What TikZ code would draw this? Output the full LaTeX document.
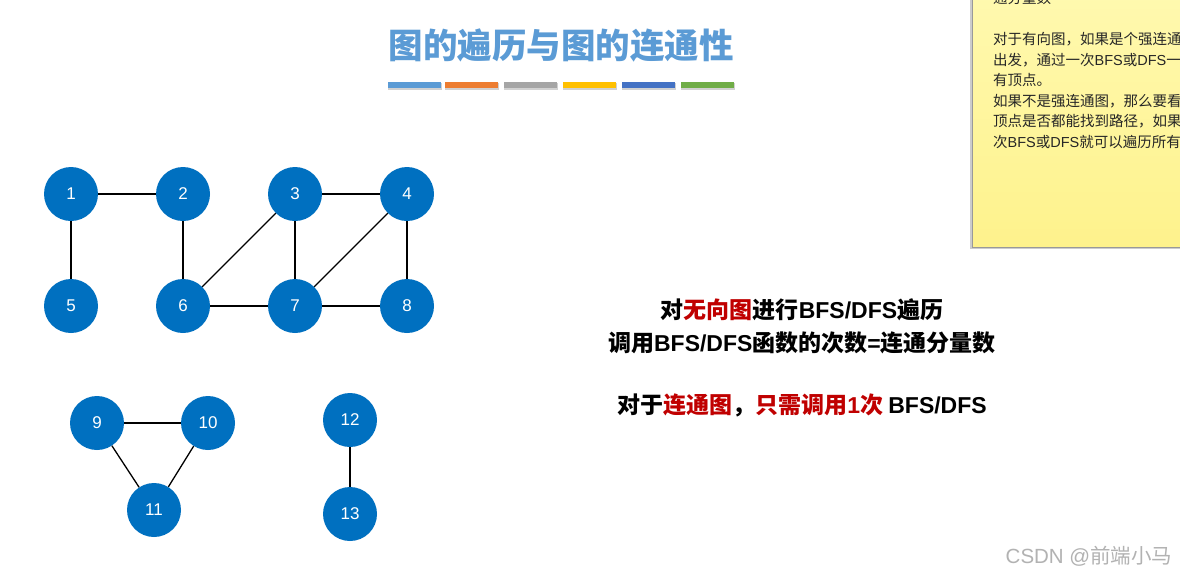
\documentclass[tikz,border=0pt]{standalone}
\usepackage{fontspec}
\setmainfont{Noto Sans CJK SC}
\newfontfamily\latfont{Liberation Sans}
\newcommand{\lat}[1]{{\latfont #1}}
\usetikzlibrary{positioning}
\definecolor{vertex-blue}{RGB}{0,112,192}
\definecolor{title-blue}{RGB}{91,155,213}
\definecolor{hint-red}{RGB}{192,0,0}
\definecolor{note-top}{RGB}{255,249,175}
\definecolor{note-bottom}{RGB}{254,242,140}
\definecolor{bar-1}{RGB}{91,155,213}
\definecolor{bar-2}{RGB}{237,125,49}
\definecolor{bar-3}{RGB}{165,165,165}
\definecolor{bar-4}{RGB}{255,192,0}
\definecolor{bar-5}{RGB}{68,114,196}
\definecolor{bar-6}{RGB}{112,173,71}
\tikzset{
  graph-vertex/.style={circle, fill=vertex-blue, minimum size=54pt, inner sep=0pt,
    text=white, font=\latfont\fontsize{17}{17}\selectfont},
  graph-edge/.style={line width=1.3pt, black},
  title-bar/.style={minimum width=53pt, minimum height=6pt, inner sep=0pt},
  hint-line/.style={font=\bfseries\fontsize{23}{26}\selectfont, inner sep=0pt},
  note-text/.style={font=\fontsize{14.5}{20.6}\selectfont, align=left, inner sep=0pt, text=black!85}
}

\begin{document}
\begin{tikzpicture}[x=1pt, y=-1pt]
  \clip (0,0) rectangle (1180,576);
  \fill[white] (0,0) rectangle (1180,576);

  % Title
  \node[font=\bfseries\fontsize{34.5}{38}\selectfont, text=title-blue] (title) at (561,45) {图的遍历与图的连通性};

  % Colour bars under the title
  \foreach \i/\x in {1/414,2/471,3/530,4/589,5/648,6/707} {
    \fill[black!18] (\x-26,82.5) rectangle (\x+27.5,89.5);
    \node[title-bar, fill=bar-\i] (bar\i) at (\x,84.5) {};
  }

  % Sticky note (cut off at the corner)
  \fill[black!20] (970,-10) rectangle (1182,249);
  \shade[top color=note-top, bottom color=note-bottom, draw=black!40, line width=0.5pt]
    (972,-10) rectangle (1190,247);
  \node[note-text, anchor=north west] (note) at (993,-9)
    {通分量数\\
     \\
     对于有向图，如果是个强连通图，那么从任意顶点\\
     出发，通过一次\lat{BFS}或\lat{DFS}一定能遍历到所\\
     有顶点。\\
     如果不是强连通图，那么要看从某顶点出发到其他\\
     顶点是否都能找到路径，如果都能找到则调用一\\
     次\lat{BFS}或\lat{DFS}就可以遍历所有顶点。};

  % Graph part one: vertices 1--8 and 5
  \node[graph-vertex] (v1) at (71,194) {1};
  \node[graph-vertex] (v2) at (183,194) {2};
  \node[graph-vertex] (v3) at (295,194) {3};
  \node[graph-vertex] (v4) at (407,194) {4};
  \node[graph-vertex] (v5) at (71,306) {5};
  \node[graph-vertex] (v6) at (183,306) {6};
  \node[graph-vertex] (v7) at (295,306) {7};
  \node[graph-vertex] (v8) at (407,306) {8};

  % Graph part two: triangle 9, 10, 11
  \node[graph-vertex] (v9) at (97,423) {9};
  \node[graph-vertex] (v10) at (208,423) {10};
  \node[graph-vertex] (v11) at (154,510) {11};

  % Graph part three: 12 and 13
  \node[graph-vertex] (v12) at (350,420) {12};
  \node[graph-vertex] (v13) at (350,514) {13};

  % Edges
  \foreach \a/\b in {1/2,1/5,2/6,3/4,3/6,3/7,4/7,4/8,6/7,7/8,9/10,9/11,10/11,12/13}
    \draw[graph-edge] (v\a) -- (v\b);

  % Explanation text
  \node[hint-line] (hint1) at (802,310)
    {对{\color{hint-red}无向图}进行\lat{BFS/DFS}遍历};
  \node[hint-line] (hint2) at (802,343)
    {调用\lat{BFS/DFS}函数的次数\lat{=}连通分量数};
  \node[hint-line] (hint3) at (802,405)
    {对于{\color{hint-red}连通图}，{\color{hint-red}只需调用\lat{1}次} \lat{BFS/DFS}};

  % Watermark
  \node[font=\fontsize{20.5}{21}\selectfont, text=black!30, inner sep=0pt] (mark) at (1089,556)
    {\lat{CSDN @}前端小马};
\end{tikzpicture}
\end{document}
